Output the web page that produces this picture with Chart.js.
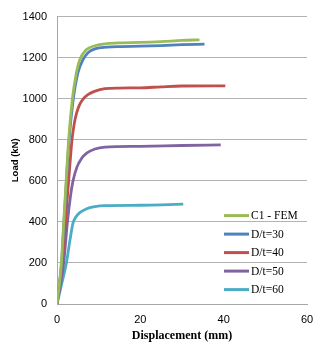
<!DOCTYPE html>
<html>
<head>
<meta charset="utf-8">
<script src="https://cdn.jsdelivr.net/npm/chart.js@4/dist/chart.umd.min.js"></script>
<style>
html,body{margin:0;padding:0;background:#fff;}
#wrap{width:325px;height:351px;position:relative;}
</style>
</head>
<body>
<div id="wrap"><canvas id="c" width="325" height="351"></canvas></div>
<script>
// Series labels
const seriesLabels = ["C1 - FEM", "D/t=30", "D/t=40", "D/t=50", "D/t=60"];
const seriesColors = ["#9BBB59", "#4F81BD", "#C0504D", "#8064A2", "#4BACC6"];

// Displacement (mm) / Load (kN) pairs
const c1Fem = [[0,0],[1.05,200],[1.62,400],[2.2,600],[2.8,800],[3.7,1000],[4.5,1110],[5.46,1190],[7,1238],[9.1,1258],[12,1268],[15,1272],[20,1274],[25,1278],[30,1284],[34.2,1287]];
const dt30  = [[0,0],[1.1,200],[1.68,400],[2.26,600],[2.9,800],[3.85,990],[5.0,1125],[6.25,1190],[7.5,1225],[9.1,1243],[12,1251],[15,1254],[20,1256],[25,1259],[30,1263],[35.4,1266]];
const dt40  = [[0,0],[1.2,200],[2.0,400],[2.8,600],[3.6,800],[4.2,885],[4.7,930],[5.4,970],[6.25,998],[7.5,1021],[9,1036],[11.5,1049],[15,1052],[20,1053],[25,1058],[30,1062],[40.4,1063]];
const dt50  = [[0,0],[1.6,200],[2.5,400],[3.2,520],[3.85,600],[4.8,668],[5.86,708],[7.2,736],[9.1,755],[11.5,764],[20,768],[30,772],[39.3,775]];
const dt60  = [[0,0],[1.2,105],[2.26,200],[3.1,310],[3.85,395],[4.4,420],[5.46,445],[7,463],[9.1,474],[11.5,479],[20,481],[25,483],[30.3,487]];

// Axis ticks
const xTicks = [0, 20, 40, 60];
const yTicks = [0, 200, 400, 600, 800, 1000, 1200, 1400];

const seriesData = [c1Fem, dt30, dt40, dt50, dt60];

const datasets = seriesData.map((arr, i) => ({
  label: seriesLabels[i],
  data: arr.map(p => ({x: p[0], y: p[1]})),
  borderColor: seriesColors[i],
  backgroundColor: seriesColors[i],
  borderWidth: 2.8,
  pointRadius: 0,
  showLine: true,
  fill: false,
  cubicInterpolationMode: 'monotone',
  order: i
}));

const legendPlugin = {
  id: 'insideLegend',
  afterDatasetsDraw(chart) {
    const ctx = chart.ctx;
    const a = chart.chartArea;
    const x0 = a.left + 167, x1 = a.left + 192;
    ctx.save();
    ctx.font = '11.5px "Liberation Serif", serif';
    ctx.textBaseline = 'middle';
    ctx.textAlign = 'left';
    seriesLabels.forEach((lab, i) => {
      const y = a.top + 199 + i * 18.5;
      ctx.strokeStyle = seriesColors[i];
      ctx.lineWidth = 3;
      ctx.beginPath();
      ctx.moveTo(x0, y);
      ctx.lineTo(x1, y);
      ctx.stroke();
      ctx.fillStyle = '#000';
      ctx.fillText(lab, x1 + 2, y + 0.5);
    });
    ctx.restore();
  }
};

new Chart(document.getElementById('c'), {
  type: 'scatter',
  data: { datasets },
  options: {
    responsive: false,
    animation: false,
    devicePixelRatio: 1,
    layout: { padding: { left: 0, top: 13, right: 18, bottom: 0 } },
    plugins: { legend: { display: false }, tooltip: { enabled: false } },
    scales: {
      x: {
        type: 'linear', min: 0, max: 60,
        afterBuildTicks: s => { s.ticks = xTicks.map(v => ({value: v})); },
        afterFit: s => { s.height = 47; },
        grid: { display: false, drawTicks: false },
        border: { display: true, color: '#A6A6A6', width: 1 },
        ticks: { padding: 9, color: '#000', callback: v => String(v),
                 font: { family: '"Liberation Sans", sans-serif', size: 11 } },
        title: { display: true, text: 'Displacement (mm)', color: '#000',
                 font: { family: '"Liberation Serif", serif', size: 12, weight: 'bold' },
                 padding: { top: 0, bottom: 8 } }
      },
      y: {
        type: 'linear', min: 0, max: 1400,
        afterBuildTicks: s => { s.ticks = yTicks.map(v => ({value: v})); },
        afterFit: s => { s.width = 57; },
        grid: { display: true, color: '#B3B3B3', lineWidth: 1, drawTicks: false },
        border: { display: true, color: '#A6A6A6', width: 1 },
        ticks: { padding: 10, color: '#000', callback: v => String(v),
                 font: { family: '"Liberation Sans", sans-serif', size: 11 } },
        title: { display: true, text: 'Load (kN)', color: '#000',
                 font: { family: '"Liberation Sans", sans-serif', size: 9.5, weight: 'bold' },
                 padding: { top: 10, bottom: 0 } }
      }
    }
  },
  plugins: [legendPlugin]
});
</script>
</body>
</html>
